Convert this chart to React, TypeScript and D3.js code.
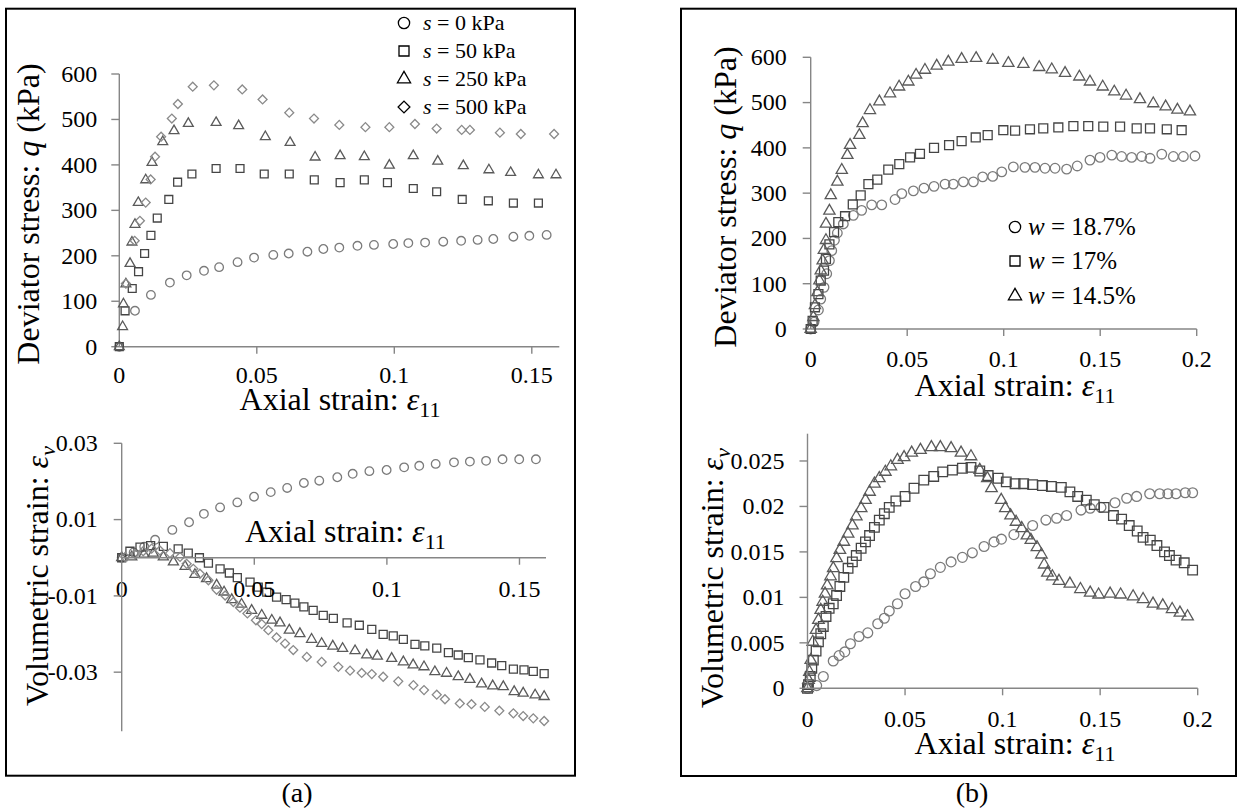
import React from 'react';
import * as d3 from 'd3';

type P = [number, number];

// ---------- Panel (a) top: deviator stress q (kPa) vs axial strain ----------
const aTopS0: P[] = [[0,0],[0.0057,79],[0.0115,114],[0.0184,141],[0.0245,157],[0.0308,167],[0.0363,175],[0.043,186],[0.049,196],[0.056,202],[0.0616,205],[0.0684,209],[0.0742,215],[0.08,218],[0.0866,222],[0.0926,224],[0.0996,226],[0.1051,228],[0.1112,229],[0.1178,231],[0.1243,233],[0.1303,235],[0.136,237],[0.1433,242],[0.1491,244],[0.1554,246]];
const aTopS50: P[] = [[0,0],[0.0021,79],[0.0047,128],[0.007,165],[0.0092,205],[0.0115,245],[0.0138,283],[0.018,324],[0.0212,362],[0.0264,380],[0.0352,392],[0.0439,392],[0.0527,380],[0.0618,380],[0.0709,367],[0.0803,361],[0.0891,367],[0.0975,361],[0.1069,348],[0.1154,341],[0.1247,324],[0.1342,321],[0.1433,316],[0.1524,316]];
const aTopS250: P[] = [[0,0],[0.0012,44],[0.0015,94],[0.0024,138],[0.0039,183],[0.0046,230],[0.0057,269],[0.0069,317],[0.0096,367],[0.0119,405],[0.0158,451],[0.0199,475],[0.0251,491],[0.0352,493],[0.0434,486],[0.0531,462],[0.0621,449],[0.0712,417],[0.0803,420],[0.0891,418],[0.0982,399],[0.1069,420],[0.1158,408],[0.1251,398],[0.1344,389],[0.1423,383],[0.1524,378],[0.1588,378]];
const aTopS500: P[] = [[0.0024,139],[0.0056,233],[0.0075,277],[0.0096,317],[0.0114,368],[0.013,418],[0.0152,462],[0.0191,502],[0.0213,534],[0.0267,572],[0.0344,575],[0.0447,566],[0.0521,544],[0.0618,515],[0.0708,502],[0.08,488],[0.0895,483],[0.0982,483],[0.1075,490],[0.1154,480],[0.1245,477],[0.1275,477],[0.1384,471],[0.146,468],[0.1581,468]];

// ---------- Panel (a) bottom: volumetric strain vs axial strain ----------
const aBotS0: P[] = [[0,0],[0.0045,0.0014],[0.0085,0.0029],[0.0126,0.0047],[0.0191,0.0073],[0.0254,0.0093],[0.031,0.0115],[0.0371,0.0132],[0.0436,0.0145],[0.0499,0.016],[0.0562,0.0172],[0.0624,0.0183],[0.0687,0.0196],[0.0745,0.0202],[0.0813,0.0211],[0.0871,0.022],[0.0934,0.0227],[0.0999,0.023],[0.1065,0.0237],[0.1122,0.0241],[0.1184,0.0246],[0.1253,0.025],[0.1313,0.0252],[0.1374,0.0254],[0.1436,0.0258],[0.1499,0.0258],[0.1562,0.0258]];
const aBotS50: P[] = [[0,0],[0.0031,0.0017],[0.0069,0.0028],[0.0109,0.0032],[0.0157,0.003],[0.0213,0.0023],[0.0251,0.0012],[0.0293,0],[0.0327,-0.0014],[0.0371,-0.0029],[0.0406,-0.004],[0.0436,-0.0052],[0.0484,-0.0064],[0.0515,-0.0077],[0.0547,-0.009],[0.0584,-0.0103],[0.062,-0.011],[0.0653,-0.0119],[0.0687,-0.0129],[0.0722,-0.0138],[0.076,-0.0151],[0.0798,-0.0159],[0.085,-0.0171],[0.0896,-0.0177],[0.0943,-0.0188],[0.0986,-0.0201],[0.1024,-0.0205],[0.1062,-0.0214],[0.1106,-0.0227],[0.1143,-0.0231],[0.1188,-0.0237],[0.1232,-0.0249],[0.1269,-0.0255],[0.1307,-0.0262],[0.1351,-0.0268],[0.1395,-0.0276],[0.1433,-0.0283],[0.1477,-0.0292],[0.1517,-0.0294],[0.1552,-0.0298],[0.1593,-0.0304]];
const aBotS250: P[] = [[0,0],[0.0038,0.0002],[0.0084,0.0009],[0.0119,0.0012],[0.0157,0.0002],[0.0195,-0.0011],[0.0239,-0.0023],[0.0276,-0.0044],[0.032,-0.0055],[0.0358,-0.0072],[0.0386,-0.009],[0.0415,-0.011],[0.0452,-0.0122],[0.049,-0.0138],[0.0528,-0.0151],[0.0566,-0.0164],[0.0597,-0.0171],[0.0632,-0.019],[0.0672,-0.0199],[0.0716,-0.0214],[0.0754,-0.0225],[0.0796,-0.0232],[0.0833,-0.0238],[0.088,-0.0244],[0.0924,-0.0255],[0.0964,-0.0258],[0.1018,-0.0264],[0.1062,-0.0273],[0.1099,-0.0281],[0.114,-0.0286],[0.1181,-0.0299],[0.1225,-0.0303],[0.1269,-0.0312],[0.1313,-0.0319],[0.1357,-0.0331],[0.1399,-0.0336],[0.1439,-0.0338],[0.148,-0.0351],[0.1514,-0.0355],[0.1559,-0.036],[0.1593,-0.0364]];
const aBotS500: P[] = [[0.0013,0.0002],[0.005,0.001],[0.0081,0.0017],[0.0113,0.0024],[0.0144,0.0019],[0.0182,0.0012],[0.022,0.0002],[0.0245,-0.0016],[0.027,-0.0029],[0.0295,-0.0042],[0.0327,-0.0059],[0.0358,-0.0084],[0.039,-0.0099],[0.0421,-0.0116],[0.0446,-0.0131],[0.0474,-0.0146],[0.0506,-0.0164],[0.0528,-0.0174],[0.0553,-0.019],[0.0584,-0.0209],[0.0616,-0.0225],[0.0647,-0.0242],[0.0698,-0.026],[0.0754,-0.0273],[0.0817,-0.0286],[0.0861,-0.0296],[0.0905,-0.0302],[0.0943,-0.0305],[0.0986,-0.0312],[0.1043,-0.0324],[0.11,-0.0334],[0.114,-0.0347],[0.1188,-0.0359],[0.1219,-0.0371],[0.1275,-0.0382],[0.1319,-0.0384],[0.1369,-0.0391],[0.1424,-0.0401],[0.1477,-0.0408],[0.1514,-0.0415],[0.1552,-0.0421],[0.1593,-0.0428]];

// ---------- Panel (b) top: deviator stress ----------
const bTopW187: P[] = [[0,0],[0.0017,15],[0.004,42],[0.0052,66],[0.0069,92],[0.0083,122],[0.0097,151],[0.0109,173],[0.0123,196],[0.0138,212],[0.0169,232],[0.0221,251],[0.0264,262],[0.0316,274],[0.0368,274],[0.0437,286],[0.0472,299],[0.0532,305],[0.0587,311],[0.0639,315],[0.0696,320],[0.0739,320],[0.0791,325],[0.0843,325],[0.0891,336],[0.0943,337],[0.099,347],[0.105,358],[0.111,357],[0.1162,357],[0.1214,355],[0.1266,355],[0.1326,353],[0.1381,360],[0.1447,373],[0.1499,379],[0.156,384],[0.1611,381],[0.1663,379],[0.1715,381],[0.1758,377],[0.1819,386],[0.1879,381],[0.1931,381],[0.1991,382]];
const bTopW17: P[] = [[0,0],[0.001,18],[0.0022,48],[0.004,77],[0.0052,107],[0.0069,129],[0.0079,155],[0.0097,187],[0.0121,214],[0.0143,236],[0.0178,249],[0.0218,275],[0.0259,295],[0.0299,320],[0.0345,330],[0.0402,352],[0.0459,364],[0.0515,379],[0.0566,387],[0.0639,400],[0.0717,406],[0.0782,415],[0.0855,423],[0.0917,428],[0.0998,439],[0.1059,438],[0.1136,441],[0.1205,443],[0.1283,445],[0.1361,448],[0.1438,448],[0.1516,447],[0.1603,447],[0.1689,443],[0.1758,443],[0.1845,441],[0.1922,439]];
const bTopW145: P[] = [[0,0],[0.0014,26],[0.0022,52],[0.0035,81],[0.0045,107],[0.0052,129],[0.0062,151],[0.0068,174],[0.0079,196],[0.0079,232],[0.0097,261],[0.0104,295],[0.0138,325],[0.0161,351],[0.019,384],[0.0204,406],[0.0252,428],[0.0269,454],[0.0307,483],[0.0356,502],[0.0411,520],[0.0458,535],[0.0506,546],[0.0546,561],[0.0592,572],[0.0653,581],[0.0713,590],[0.0782,596],[0.0857,598],[0.0943,594],[0.1024,587],[0.1102,585],[0.1184,578],[0.1249,573],[0.1318,565],[0.1392,557],[0.1447,546],[0.1513,535],[0.1573,524],[0.1634,515],[0.1706,507],[0.1775,498],[0.1839,491],[0.19,484],[0.1965,480]];

// ---------- Panel (b) bottom: volumetric strain ----------
const bBotW187: P[] = [[0,0],[0.0047,0.0003],[0.0081,0.0013],[0.0132,0.003],[0.0162,0.0036],[0.0191,0.004],[0.022,0.0049],[0.0264,0.0057],[0.0309,0.0061],[0.036,0.0071],[0.0394,0.0077],[0.0419,0.0085],[0.0461,0.0093],[0.05,0.0104],[0.0554,0.0112],[0.0596,0.0117],[0.063,0.0126],[0.0681,0.0133],[0.0736,0.0139],[0.0794,0.0144],[0.0845,0.0149],[0.0905,0.0156],[0.0956,0.0161],[0.0994,0.0164],[0.1058,0.0169],[0.1154,0.0179],[0.1222,0.0185],[0.1277,0.0187],[0.1328,0.019],[0.1402,0.0196],[0.1449,0.0198],[0.1504,0.0199],[0.1576,0.0204],[0.1636,0.0209],[0.1687,0.0211],[0.1754,0.0214],[0.1805,0.0214],[0.1847,0.0214],[0.1889,0.0214],[0.1936,0.0215],[0.1974,0.0215]];
const bBotW17: P[] = [[0,0],[0.0005,0.0004],[0.0014,0.0013],[0.0022,0.0022],[0.003,0.0031],[0.0044,0.0041],[0.0056,0.0051],[0.0068,0.006],[0.0081,0.0068],[0.0095,0.0079],[0.0111,0.0088],[0.0132,0.0093],[0.0149,0.0102],[0.0166,0.0112],[0.0186,0.0122],[0.0208,0.0132],[0.023,0.0139],[0.025,0.0146],[0.0275,0.0154],[0.0297,0.0161],[0.0318,0.0168],[0.0343,0.0177],[0.0368,0.0185],[0.0394,0.0192],[0.0419,0.0199],[0.0453,0.0206],[0.05,0.0211],[0.0546,0.022],[0.0596,0.0229],[0.0647,0.0233],[0.0693,0.0238],[0.0743,0.024],[0.0794,0.0242],[0.0838,0.0243],[0.0883,0.0239],[0.0926,0.0234],[0.0977,0.0231],[0.1019,0.0227],[0.1064,0.0225],[0.1108,0.0225],[0.1154,0.0224],[0.1204,0.0223],[0.125,0.0222],[0.1301,0.0221],[0.1345,0.0216],[0.1385,0.0211],[0.1429,0.0207],[0.147,0.0202],[0.152,0.0199],[0.1568,0.019],[0.161,0.0186],[0.1649,0.0179],[0.169,0.0173],[0.172,0.0166],[0.1757,0.0163],[0.1791,0.0157],[0.183,0.015],[0.1855,0.0146],[0.1889,0.0141],[0.1931,0.0138],[0.1974,0.013]];
const bBotW145: P[] = [[0,0],[0.0005,0.0009],[0.001,0.0018],[0.0017,0.0031],[0.0027,0.0051],[0.0044,0.0064],[0.0056,0.0075],[0.0068,0.0086],[0.0078,0.0095],[0.009,0.0104],[0.0101,0.0113],[0.0118,0.0123],[0.0132,0.0132],[0.0149,0.0143],[0.0166,0.0152],[0.0186,0.0161],[0.0208,0.017],[0.023,0.0179],[0.025,0.0189],[0.0275,0.0198],[0.0297,0.0207],[0.0318,0.0216],[0.0343,0.0225],[0.0368,0.0231],[0.0399,0.0238],[0.0427,0.0244],[0.0461,0.0251],[0.0495,0.0254],[0.0534,0.0259],[0.0579,0.0262],[0.0635,0.0265],[0.0681,0.0265],[0.0736,0.0264],[0.0787,0.0259],[0.0838,0.0255],[0.0883,0.024],[0.0922,0.0231],[0.0943,0.022],[0.0993,0.0207],[0.1014,0.0198],[0.1041,0.019],[0.1069,0.0183],[0.1098,0.0176],[0.1125,0.0168],[0.1145,0.0163],[0.1176,0.0155],[0.1199,0.0147],[0.1213,0.0136],[0.123,0.0127],[0.1255,0.0123],[0.1289,0.0118],[0.1345,0.0115],[0.1399,0.0109],[0.1449,0.0105],[0.1492,0.0103],[0.1551,0.0104],[0.1605,0.0103],[0.1669,0.0101],[0.172,0.0098],[0.1771,0.0093],[0.1821,0.0091],[0.1869,0.0087],[0.1909,0.0083],[0.1948,0.0079]];

// ---------- tick values & labels ----------
const aXTicks = [0, 0.05, 0.1, 0.15];
const aXLabels = ['0', '0.05', '0.1', '0.15'];
const aTopYTicks = [0, 100, 200, 300, 400, 500, 600];
const aBotYTicks = [0.03, 0.01, -0.01, -0.03];
const aBotYLabels = ['0.03', '0.01', '-0.01', '-0.03'];
const bXTicks = [0, 0.05, 0.1, 0.15, 0.2];
const bXLabels = ['0', '0.05', '0.1', '0.15', '0.2'];
const bTopYTicks = [0, 100, 200, 300, 400, 500, 600];
const bBotYTicks = [0, 0.005, 0.01, 0.015, 0.02, 0.025];
const bBotYLabels = ['0', '0.005', '0.01', '0.015', '0.02', '0.025'];

const legendA = ['0', '50', '250', '500'];
const legendB = ['18.7%', '17%', '14.5%'];

const SERIF = "'Liberation Serif', 'Times New Roman', Times, serif";
const AXIS = '#868686';
const C_CIRC = '#7b7b7b';
const C_SQ = '#454545';
const C_TRI = '#5a5a5a';
const C_DIA = '#8a8a8a';
const TICK_FS = 24;
const TITLE_FS = 32;
const SUB_FS = 22;

type Kind = 'circle' | 'square' | 'triangle' | 'diamond';

function symPath(kind: Kind, size: number): string {
  const t = kind === 'circle' ? d3.symbolCircle : kind === 'triangle' ? d3.symbolTriangle : d3.symbolSquare;
  return d3.symbol().type(t).size(size)() || '';
}

function Markers({ data, x, y, kind, size, color }: { data: P[]; x: any; y: any; kind: Kind; size: number; color: string }) {
  const d = symPath(kind, size);
  return (
    <g>
      {data.map((p, i) => (
        <path
          key={i}
          d={d}
          transform={`translate(${x(p[0])},${y(p[1])})${kind === 'diamond' ? ' rotate(45)' : ''}`}
          fill="none"
          stroke={color}
          strokeWidth={1.3}
        />
      ))}
    </g>
  );
}

const T = (props: any) => <text {...props} style={{ fontFamily: SERIF }} fill="#000" />;

function XAxis({ x, yPos, ticks, labels, labelY, tickLen = 7 }: any) {
  const [r0, r1] = x.range();
  return (
    <g>
      <line x1={r0} x2={r1} y1={yPos} y2={yPos} stroke={AXIS} strokeWidth={1.4} />
      {ticks.map((t: number, i: number) => (
        <g key={i}>
          {t !== 0 && <line x1={x(t)} x2={x(t)} y1={yPos} y2={yPos + tickLen} stroke={AXIS} strokeWidth={1.4} />}
          <T x={x(t)} y={labelY} textAnchor="middle" fontSize={TICK_FS}>{labels[i]}</T>
        </g>
      ))}
    </g>
  );
}

function YAxis({ y, xPos, ticks, labels, labelGap = 22, tickLen = 8 }: any) {
  const [r0, r1] = y.range();
  return (
    <g>
      <line x1={xPos} x2={xPos} y1={r0} y2={r1} stroke={AXIS} strokeWidth={1.4} />
      {ticks.map((t: number, i: number) => (
        <g key={i}>
          <line x1={xPos - tickLen} x2={xPos} y1={y(t)} y2={y(t)} stroke={AXIS} strokeWidth={1.4} />
          <T x={xPos - labelGap} y={y(t) + 7.8} textAnchor="end" fontSize={TICK_FS}>{labels[i]}</T>
        </g>
      ))}
    </g>
  );
}

function AxialTitle({ x, y, anchor = 'middle' }: { x: number; y: number; anchor?: string }) {
  return (
    <T x={x} y={y} textAnchor={anchor} fontSize={TITLE_FS}>
      Axial strain: <tspan fontStyle="italic">ε</tspan>
      <tspan fontSize={SUB_FS} dy={7}>11</tspan>
    </T>
  );
}

function DevTitle({ x, y }: { x: number; y: number }) {
  return (
    <T transform={`translate(${x},${y}) rotate(-90)`} textAnchor="middle" fontSize={TITLE_FS}>
      Deviator stress: <tspan fontStyle="italic">q</tspan> (kPa)
    </T>
  );
}

function VolTitle({ x, y }: { x: number; y: number }) {
  return (
    <T transform={`translate(${x},${y}) rotate(-90)`} textAnchor="middle" fontSize={TITLE_FS}>
      Volumetric strain: <tspan fontStyle="italic">ε</tspan>
      <tspan fontSize={SUB_FS} fontStyle="italic" dy={7}>v</tspan>
    </T>
  );
}

export default function App() {
  const xA1 = d3.scaleLinear().domain([0, 0.16]).range([119.3, 559.3]);
  const yA1 = d3.scaleLinear().domain([0, 600]).range([346.7, 74]);
  const xA2 = d3.scaleLinear().domain([0, 0.16]).range([121.7, 546]);
  const yA2 = d3.scaleLinear().domain([-0.0455, 0.03]).range([731.3, 443.3]);
  const xB1 = d3.scaleLinear().domain([0, 0.2]).range([810.7, 1196.7]);
  const yB1 = d3.scaleLinear().domain([0, 600]).range([329, 57.3]);
  const xB2 = d3.scaleLinear().domain([0, 0.2]).range([807.5, 1197.7]);
  const yB2 = d3.scaleLinear().domain([0, 0.028]).range([688.3, 433.7]);

  const legendKinds: Kind[] = ['circle', 'square', 'triangle', 'diamond'];
  const legendAY = [23, 51, 79, 107];
  const legendBY = [227, 261, 296];

  return (
    <svg width={1237} height={812} style={{ position: 'absolute', left: 0, top: 0, background: '#fff' }}>
      <rect x={0} y={0} width={1237} height={812} fill="#fff" />
      <rect x={6} y={8.7} width={569} height={767} fill="none" stroke="#000" strokeWidth={2} />
      <rect x={681} y={8.7} width={555} height={767.3} fill="none" stroke="#000" strokeWidth={2} />

      {/* ===== (a) top ===== */}
      <XAxis x={xA1} yPos={yA1(0)} ticks={aXTicks} labels={aXLabels} labelY={383} />
      <YAxis y={yA1} xPos={119.3} ticks={aTopYTicks} labels={aTopYTicks.map(String)} labelGap={22} />
      <Markers data={aTopS0} x={xA1} y={yA1} kind="circle" size={58} color={C_CIRC} />
      <Markers data={aTopS50} x={xA1} y={yA1} kind="square" size={62} color={C_SQ} />
      <Markers data={aTopS250} x={xA1} y={yA1} kind="triangle" size={42} color={C_TRI} />
      <Markers data={aTopS500} x={xA1} y={yA1} kind="diamond" size={40} color={C_DIA} />
      <DevTitle x={39} y={214} />
      <AxialTitle x={340} y={410} />
      {legendA.map((v, i) => (
        <g key={i}>
          <path
            d={symPath(legendKinds[i], i === 2 ? 75 : i === 3 ? 70 : 100)}
            transform={`translate(404,${legendAY[i]})${legendKinds[i] === 'diamond' ? ' rotate(45)' : ''}`}
            fill="none" stroke="#000" strokeWidth={1.3}
          />
          <T x={423} y={legendAY[i] + 7} fontSize={22}>
            <tspan fontStyle="italic">s</tspan> = {v} kPa
          </T>
        </g>
      ))}

      {/* ===== (a) bottom ===== */}
      <Markers data={aBotS0} x={xA2} y={yA2} kind="circle" size={58} color={C_CIRC} />
      <Markers data={aBotS50} x={xA2} y={yA2} kind="square" size={64} color={C_SQ} />
      <Markers data={aBotS250} x={xA2} y={yA2} kind="triangle" size={44} color={C_TRI} />
      <Markers data={aBotS500} x={xA2} y={yA2} kind="diamond" size={40} color={C_DIA} />
      <XAxis x={xA2} yPos={yA2(0)} ticks={aXTicks} labels={aXLabels} labelY={597} />
      <YAxis y={yA2} xPos={121.7} ticks={aBotYTicks} labels={aBotYLabels} labelGap={24} />
      <VolTitle x={48} y={576} />
      <AxialTitle x={245} y={541.5} anchor="start" />

      {/* ===== (b) top ===== */}
      <XAxis x={xB1} yPos={yB1(0)} ticks={bXTicks} labels={bXLabels} labelY={367} />
      <YAxis y={yB1} xPos={810.7} ticks={bTopYTicks} labels={bTopYTicks.map(String)} labelGap={24} />
      <Markers data={bTopW187} x={xB1} y={yB1} kind="circle" size={72} color={C_CIRC} />
      <Markers data={bTopW17} x={xB1} y={yB1} kind="square" size={80} color={C_SQ} />
      <Markers data={bTopW145} x={xB1} y={yB1} kind="triangle" size={55} color={C_TRI} />
      <DevTitle x={736} y={197} />
      <AxialTitle x={1015} y={396} />
      {legendB.map((v, i) => (
        <g key={i}>
          <path
            d={symPath(legendKinds[i], i === 2 ? 75 : 100)}
            transform={`translate(1015,${legendBY[i]})`}
            fill="none" stroke="#000" strokeWidth={1.3}
          />
          <T x={1028} y={legendBY[i] + 8} fontSize={25}>
            <tspan fontStyle="italic">w</tspan> = {v}
          </T>
        </g>
      ))}

      {/* ===== (b) bottom ===== */}
      <Markers data={bBotW187} x={xB2} y={yB2} kind="circle" size={76} color={C_CIRC} />
      <Markers data={bBotW17} x={xB2} y={yB2} kind="square" size={92} color={C_SQ} />
      <Markers data={bBotW145} x={xB2} y={yB2} kind="triangle" size={58} color={C_TRI} />
      <XAxis x={xB2} yPos={yB2(0)} ticks={bXTicks} labels={bXLabels} labelY={727} />
      <YAxis y={yB2} xPos={807.5} ticks={bBotYTicks} labels={bBotYLabels} labelGap={23} />
      <VolTitle x={723} y={578} />
      <AxialTitle x={1015} y={754} />

      <T x={297} y={802} textAnchor="middle" fontSize={28}>(a)</T>
      <T x={972} y={802} textAnchor="middle" fontSize={28}>(b)</T>
    </svg>
  );
}
